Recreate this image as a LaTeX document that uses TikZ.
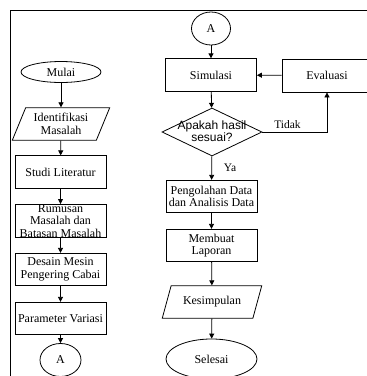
\documentclass[tikz,border=0pt]{standalone}
\usepackage{fontspec}
\setmainfont{Liberation Serif}
\setsansfont{Liberation Sans}
\usetikzlibrary{shapes.geometric,arrows.meta}
\begin{document}
\begin{tikzpicture}[x=1pt,y=-1pt,
  every node/.style={font=\fontsize{12}{12.6}\selectfont, align=center, inner sep=0pt},
  box/.style={draw, line width=0.8pt, rectangle, minimum width=91pt, minimum height=32.5pt},
  term/.style={draw, line width=0.8pt, ellipse, minimum width=80pt, minimum height=21pt},
  conn/.style={draw, line width=0.8pt, ellipse},
  io/.style={draw, line width=0.8pt, trapezium, trapezium left angle=64, trapezium right angle=116, trapezium stretches=true, minimum width=98pt, minimum height=32.5pt},
  dec/.style={draw, line width=0.8pt, diamond, minimum width=100pt, minimum height=48pt, aspect=2},
  arr/.style={line width=0.8pt, -{Triangle[length=5pt,width=5pt]}},
  lbl/.style={font=\fontsize{11.5}{12}\selectfont}
]
\useasboundingbox (0,0) rectangle (367,376);
\clip (0,0) rectangle (367,376);
% frame
\draw[line width=1pt] (10,376) -- (10,10) -- (367,10);
% left column
\node[term] (mulai) at (61,72) {Mulai};
\node[io] (ident) at (61,124) {Identifikasi\\Masalah};
\node[box] (studi) at (60.5,172) {Studi Literatur};
\node[box] (rumus) at (60.5,221) {Rumusan\\Masalah dan\\Batasan Masalah};
\node[box] (desain) at (60.5,269.5) {Desain Mesin\\Pengering Cabai};
\node[box] (param) at (60.5,318.5) {Parameter Variasi};
\node[conn, minimum width=41pt, minimum height=33pt] (a1) at (60.5,360) {A};
\draw[arr] (mulai) -- (ident);
\draw[arr] (ident) -- (studi);
\draw[arr] (studi) -- (rumus);
\draw[arr] (rumus) -- (desain);
\draw[arr] (desain) -- (param);
\draw[arr] (param) -- (a1);
% right column
\node[conn, minimum width=39pt, minimum height=33pt] (a2) at (211,28.5) {A};
\node[box] (sim) at (211,75) {Simulasi};
\node[box, minimum width=90pt, minimum height=33pt] (eval) at (327,75.5) {Evaluasi};
\node[dec] (dec) at (212,132) {};
\node[font=\sffamily\fontsize{12}{12}\selectfont] at (212,131) {Apakah hasil\\sesuai?};
\node[box] (olah) at (211.5,196.5) {Pengolahan Data\\dan Analisis Data};
\node[box] (lapor) at (211.5,245.5) {Membuat\\Laporan};
\node[io, trapezium left angle=60, trapezium right angle=120, minimum width=100pt] (kes) at (212,302) {Kesimpulan};
\node[term, minimum width=91pt, minimum height=40pt] (sel) at (211.5,359) {Selesai};
\coordinate (tc) at (327,132);
\draw[arr] (a2) -- (sim);
\draw[arr] (eval) -- (sim);
\draw[arr] (sim) -- (dec);
\draw[arr] (dec.east) -- (tc) -- (eval.south);
\draw[arr] (dec) -- (olah);
\draw[arr] (olah) -- (lapor);
\draw[arr] (lapor) -- (kes);
\draw[arr] (kes) -- (sel);
\node[lbl] at (287.5,125) {Tidak};
\node[lbl] at (230,168) {Ya};
\end{tikzpicture}
\end{document}
